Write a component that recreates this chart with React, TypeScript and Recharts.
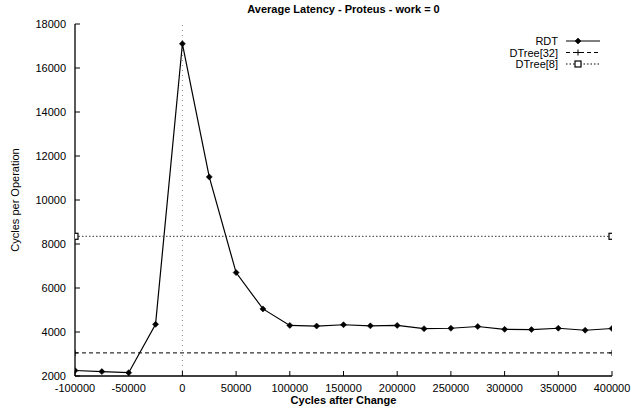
import React from 'react';
import { LineChart, Line, XAxis, YAxis, ReferenceLine, Legend } from 'recharts';

const xCycles = [-100000, -75000, -50000, -25000, 0, 25000, 50000, 75000, 100000, 125000, 150000, 175000, 200000, 225000, 250000, 275000, 300000, 325000, 350000, 375000, 400000];
const rdtCycles = [2250, 2200, 2150, 4350, 17100, 11050, 6700, 5050, 4300, 4270, 4330, 4280, 4300, 4150, 4170, 4250, 4120, 4110, 4170, 4080, 4160];
const dtreeX = [-100000, 400000];
const dtree32Cycles = [3050, 3050];
const dtree8Cycles = [8350, 8350];
const xTicks = [-100000, -50000, 0, 50000, 100000, 150000, 200000, 250000, 300000, 350000, 400000];
const yTicks = [2000, 4000, 6000, 8000, 10000, 12000, 14000, 16000, 18000];
const seriesNames = ['RDT', 'DTree[32]', 'DTree[8]'];
const title = 'Average Latency - Proteus - work = 0';
const xLabel = 'Cycles after Change';
const yLabel = 'Cycles per Operation';

const rdtData = xCycles.map((x, i) => ({ x, y: rdtCycles[i] }));
const dtree32Data = dtreeX.map((x, i) => ({ x, y: dtree32Cycles[i] }));
const dtree8Data = dtreeX.map((x, i) => ({ x, y: dtree8Cycles[i] }));

const FONT = '"Liberation Sans", Arial, Helvetica, sans-serif';

const Diamond = ({ cx, cy }: any) => (
  <polygon points={`${cx},${cy - 3} ${cx + 3},${cy} ${cx},${cy + 3} ${cx - 3},${cy}`} fill="#000" stroke="#000" strokeWidth={0.6} />
);
const Plus = ({ cx, cy }: any) => (
  <g stroke="#000" strokeWidth={1}>
    <line x1={cx - 3} y1={cy} x2={cx + 3} y2={cy} />
    <line x1={cx} y1={cy - 3} x2={cx} y2={cy + 3} />
  </g>
);
const Square = ({ cx, cy }: any) => (
  <rect x={cx - 3} y={cy - 3} width={6} height={6} fill="#fff" stroke="#000" strokeWidth={1.2} />
);

const BottomTick = (props: any) => {
  const { x, y, payload } = props;
  return (
    <g>
      <line x1={x} y1={y} x2={x} y2={y - 5} stroke="#000" strokeWidth={1} />
      <text x={x} y={y + 16} textAnchor="middle" fontSize={11} fontFamily={FONT} fill="#000">{payload.value}</text>
    </g>
  );
};
const TopTick = (props: any) => {
  const { x, y } = props;
  return <line x1={x} y1={y} x2={x} y2={y + 5} stroke="#000" strokeWidth={1} />;
};
const LeftTick = (props: any) => {
  const { x, y, payload } = props;
  return (
    <g>
      <line x1={x} y1={y} x2={x + 5} y2={y} stroke="#000" strokeWidth={1} />
      <text x={x - 9} y={y + 4} textAnchor="end" fontSize={11} fontFamily={FONT} fill="#000">{payload.value}</text>
    </g>
  );
};
const RightTick = (props: any) => {
  const { x, y } = props;
  return <line x1={x} y1={y} x2={x - 5} y2={y} stroke="#000" strokeWidth={1} />;
};

const LegendContent = () => {
  const rows = [
    { dash: undefined, Mark: Diamond },
    { dash: '4 3', Mark: Plus },
    { dash: '1.5 2', Mark: Square },
  ];
  return (
    <svg width={220} height={40} style={{ display: 'block' }}>
      {seriesNames.map((name, i) => {
        const cy = 7 + i * 11.5;
        const { dash, Mark } = rows[i];
        return (
          <g key={name}>
            <text x={168} y={cy + 4} textAnchor="end" fontSize={11} fontFamily={FONT} fill="#000">{name}</text>
            <line x1={176} y1={cy} x2={210} y2={cy} stroke="#000" strokeWidth={1.1} strokeDasharray={dash} />
            <Mark cx={188} cy={cy} />
          </g>
        );
      })}
    </svg>
  );
};

export default function App() {
  return (
    <div style={{ position: 'absolute', left: 0, top: 0, width: 631, height: 406, background: '#fff', fontFamily: FONT }}>
      <div style={{ position: 'absolute', left: 75, top: 3, width: 537, textAlign: 'center', fontSize: 11, fontWeight: 'bold', lineHeight: '12px', color: '#000' }}>
        {title}
      </div>
      <LineChart width={631} height={406} data={rdtData} margin={{ top: 24, right: 19, bottom: 0, left: 0 }}>
        <XAxis
          xAxisId="bottom"
          dataKey="x"
          type="number"
          domain={[-100000, 400000]}
          ticks={xTicks}
          allowDataOverflow
          height={30}
          tickSize={0}
          tickMargin={0}
          tickLine={false}
          tick={<BottomTick />}
          axisLine={{ stroke: '#000', strokeWidth: 1.3 }}
          interval={0}
          label={{ value: xLabel, position: 'insideBottom', offset: 2, fontSize: 11, fontWeight: 'bold', fontFamily: FONT, fill: '#000' }}
        />
        <XAxis
          xAxisId="top"
          orientation="top"
          dataKey="x"
          type="number"
          domain={[-100000, 400000]}
          ticks={xTicks}
          allowDataOverflow
          height={0}
          tickSize={0}
          tickMargin={0}
          tickLine={false}
          tick={<TopTick />}
          axisLine={{ stroke: '#000', strokeWidth: 1.3 }}
          interval={0}
        />
        <YAxis
          yAxisId="left"
          type="number"
          domain={[2000, 18000]}
          ticks={yTicks}
          allowDataOverflow
          width={75}
          tickSize={0}
          tickMargin={0}
          tickLine={false}
          tick={<LeftTick />}
          axisLine={{ stroke: '#000', strokeWidth: 1.3 }}
          interval={0}
          label={{ value: yLabel, angle: -90, position: 'insideLeft', offset: 15, fontSize: 11, fontFamily: FONT, fill: '#000', style: { textAnchor: 'middle' } }}
        />
        <YAxis
          yAxisId="right"
          orientation="right"
          type="number"
          domain={[2000, 18000]}
          ticks={yTicks}
          allowDataOverflow
          width={0}
          tickSize={0}
          tickMargin={0}
          tickLine={false}
          tick={<RightTick />}
          axisLine={{ stroke: '#000', strokeWidth: 1.3 }}
          interval={0}
        />
        <ReferenceLine xAxisId="bottom" yAxisId="left" x={0} stroke="#888" strokeDasharray="1 4" strokeWidth={1} />
        <Line
          xAxisId="bottom"
          yAxisId="left"
          data={rdtData}
          dataKey="y"
          name={seriesNames[0]}
          stroke="#000"
          strokeWidth={1.2}
          dot={(p: any) => <Diamond key={`r${p.index}`} cx={p.cx} cy={p.cy} />}
          isAnimationActive={false}
        />
        <Line
          xAxisId="bottom"
          yAxisId="left"
          data={dtree32Data}
          dataKey="y"
          name={seriesNames[1]}
          stroke="#000"
          strokeWidth={1}
          strokeDasharray="4 3"
          dot={(p: any) => <Plus key={`d32${p.index}`} cx={p.cx} cy={p.cy} />}
          isAnimationActive={false}
        />
        <Line
          xAxisId="bottom"
          yAxisId="left"
          data={dtree8Data}
          dataKey="y"
          name={seriesNames[2]}
          stroke="#333"
          strokeWidth={1}
          strokeDasharray="1.5 2"
          dot={(p: any) => <Square key={`d8${p.index}`} cx={p.cx} cy={p.cy} />}
          isAnimationActive={false}
        />
        <Legend
          layout="vertical"
          align="center"
          verticalAlign="middle"
          content={() => <LegendContent />}
          wrapperStyle={{ position: 'absolute', left: 390, top: 34, width: 220, height: 40 }}
        />
      </LineChart>
    </div>
  );
}
